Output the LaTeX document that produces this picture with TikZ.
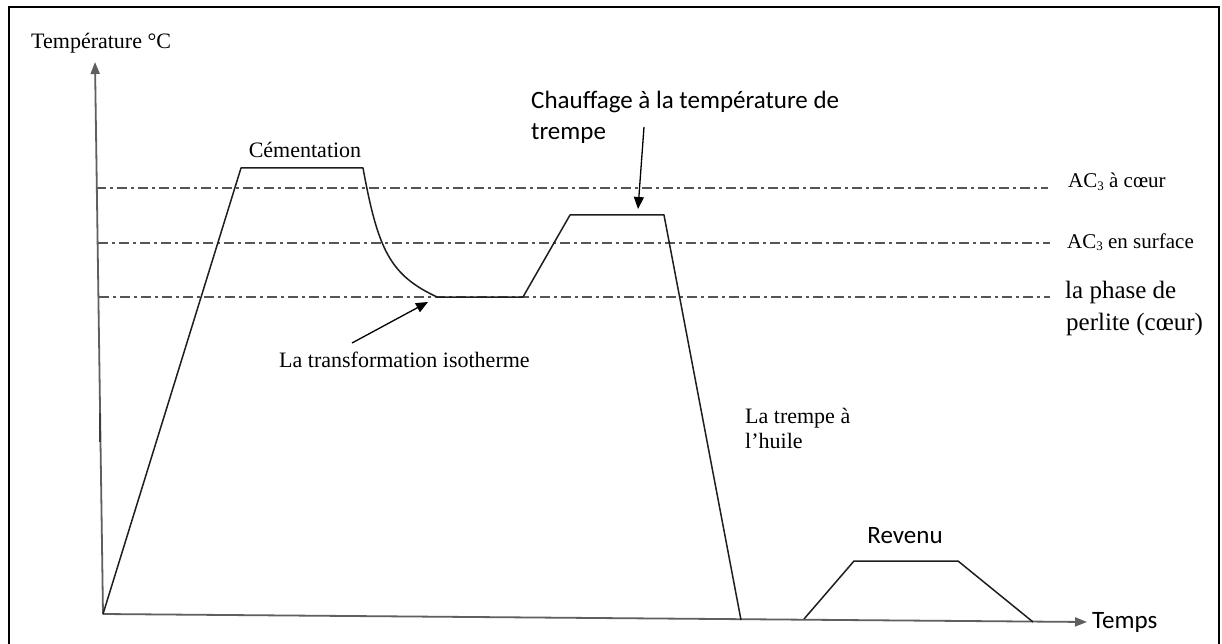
\documentclass[tikz,border=0pt]{standalone}
\usepackage{fontspec}
\setmainfont{Liberation Serif}
\newfontfamily\calfont{Carlito}
\usetikzlibrary{arrows.meta}
\tikzset{
  frame/.style={line width=2pt, black},
  axisline/.style={line width=1.8pt, draw={rgb,255:red,95;green,95;blue,95}, -{Triangle[length=12pt,width=9pt]}},
  curveline/.style={line width=1.5pt, draw={rgb,255:red,30;green,30;blue,30}, line join=round},
  ddline/.style={line width=1.6pt, draw={rgb,255:red,85;green,85;blue,85}, dash pattern=on 10pt off 4pt on 3pt off 4pt},
  pointer/.style={line width=1.3pt, black, -{Triangle[length=12pt,width=10pt]}},
  serif/.style={inner sep=0pt, font=\fontsize{22}{25}\selectfont},
  serifsm/.style={inner sep=0pt, font=\fontsize{21}{25}\selectfont},
  seriflg/.style={inner sep=0pt, font=\fontsize{25}{32}\selectfont, align=left},
  sans/.style={inner sep=0pt, font=\calfont\fontsize{25}{31}\selectfont, align=left},
}
\begin{document}
\begin{tikzpicture}[x=1pt,y=-1pt]
\useasboundingbox (0,0) rectangle (1222,644);
\fill[white] (0,0) rectangle (1222,644);
% frame
\draw[frame] (9,644) -- (9,7) -- (1219,7) -- (1219,644);

% coordinates
\coordinate (O) at (103,614);
\coordinate (Ytop) at (95,62);
\coordinate (Xend) at (1087,622);
\coordinate (c1) at (241,168);
\coordinate (c2) at (363,168);
\coordinate (c3) at (437,297);
\coordinate (c4) at (523,297);
\coordinate (c5) at (570,215);
\coordinate (c6) at (664,215);
\coordinate (c7) at (741,620);
\coordinate (r1) at (804,619);
\coordinate (r2) at (854,561);
\coordinate (r3) at (958,561);
\coordinate (r4) at (1033,622);

% reference lines
\coordinate (l1a) at (96,188);  \coordinate (l1b) at (1048,188);
\coordinate (l2a) at (98,243);  \coordinate (l2b) at (1050,243);
\coordinate (l3a) at (99,297);  \coordinate (l3b) at (1050,297);
\draw[ddline] (l1a) -- (l1b);
\draw[ddline] (l2a) -- (l2b);
\draw[ddline] (l3a) -- (l3b);

% axes
\draw[axisline] (O) -- (Ytop);
\draw[axisline] (O) -- (Xend);
\coordinate (t1) at (100,413);
\coordinate (t2) at (100,442);
\draw[line width=2.6pt, draw={rgb,255:red,60;green,60;blue,60}] (t1) -- (t2);

% heat treatment curve
\draw[curveline] (O) -- (c1) -- (c2) .. controls (378,250) and (390,275) .. (c3) -- (c4) -- (c5) -- (c6) -- (c7);
\draw[curveline] (r1) -- (r2) -- (r3) -- (r4);

% labels
\node[serif, anchor=base west] (ylab) at (31,49) {Température °C};
\node[serif, anchor=base] (cem) at (305,158) {Cémentation};
\node[serif, anchor=base west] (iso) at (279,367) {La transformation isotherme};
\node[serif, anchor=base west] (trp1) at (745,423) {La trempe à};
\node[serif, anchor=base west] (trp2) at (745,448) {l’huile};
\node[serifsm, anchor=base west] (ac1) at (1068,188) {AC\raisebox{-0.25ex}{\fontsize{13}{13}\selectfont 3} à cœur};
\node[serifsm, anchor=base west] (ac2) at (1067,248) {AC\raisebox{-0.25ex}{\fontsize{13}{13}\selectfont 3} en surface};
\node[seriflg, anchor=base west] (per1) at (1065,298) {la phase de};
\node[seriflg, anchor=base west] (per2) at (1066,330) {perlite (cœur)};
\node[sans, anchor=base west] (ch1) at (531,109) {Chauffage à la température de};
\node[sans, anchor=base west] (ch2) at (531,140) {trempe};
\node[sans, anchor=base] (rev) at (905,543) {Revenu};
\node[sans, anchor=base west] (tps) at (1092,628) {Temps};

% pointers
\coordinate (p1s) at (644,127);
\coordinate (p1e) at (638,209);
\draw[pointer] (p1s) -- (p1e);
\coordinate (p2s) at (352,343);
\coordinate (p2e) at (428,302);
\draw[pointer] (p2s) -- (p2e);
\end{tikzpicture}
\end{document}
